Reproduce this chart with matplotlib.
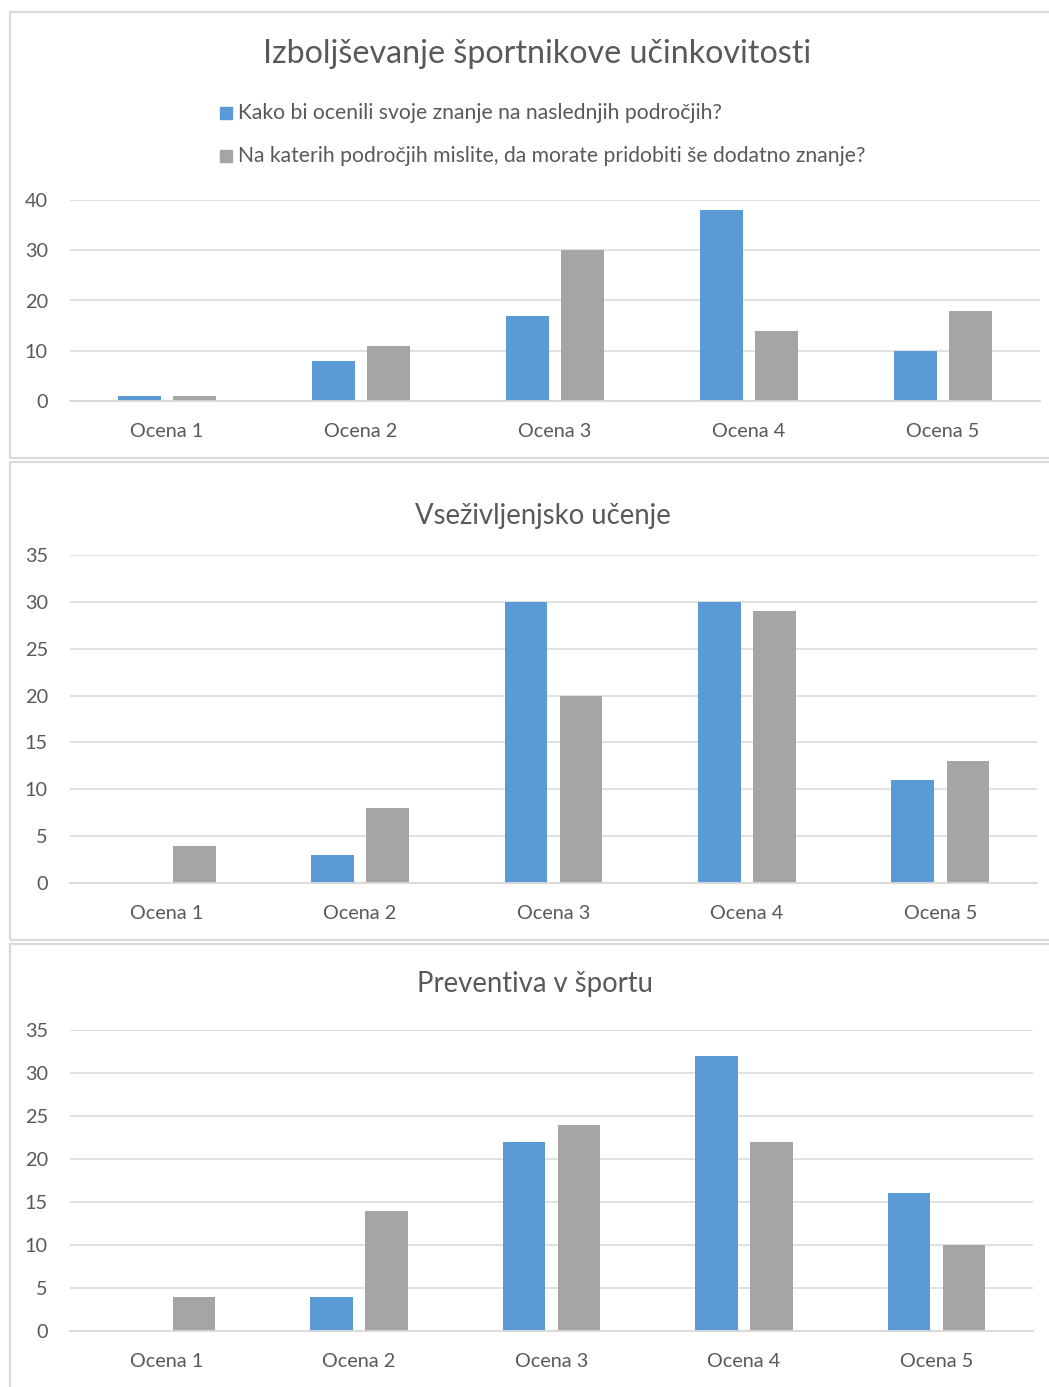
import numpy as np
import matplotlib
matplotlib.use("Agg")
import matplotlib.pyplot as plt
from matplotlib.patches import Rectangle

plt.rcParams["font.family"] = ["Lato", "DejaVu Sans"]

# ---------- data ---------------------------------------------------------
categories = ["Ocena 1", "Ocena 2", "Ocena 3", "Ocena 4", "Ocena 5"]
series_names = [
    "Kako bi ocenili svoje znanje na naslednjih področjih?",
    "Na katerih področjih mislite, da morate pridobiti še dodatno znanje?",
]

titles = [
    "Izboljševanje športnikove učinkovitosti",
    "Vseživljenjsko učenje",
    "Preventiva v športu",
]

ucinkovitost_znanje = [1, 8, 17, 38, 10]
ucinkovitost_dodatno = [1, 11, 30, 14, 18]

ucenje_znanje = [0, 3, 30, 30, 11]
ucenje_dodatno = [4, 8, 20, 29, 13]

preventiva_znanje = [0, 4, 22, 32, 16]
preventiva_dodatno = [4, 14, 24, 22, 10]

y_ticks = [
    [0, 10, 20, 30, 40],
    [0, 5, 10, 15, 20, 25, 30, 35],
    [0, 5, 10, 15, 20, 25, 30, 35],
]

# ---------- styling ------------------------------------------------------
BLUE = "#5b9bd5"
GRAY = "#a5a5a5"
TEXT = "#595959"
GRID = "#d9d9d9"

W, H = 1049, 1387
fig = plt.figure(figsize=(W / 100, H / 100), dpi=100)


def px_axes(left, top, right, bottom):
    # pixel box (origin top-left) -> figure fraction
    return fig.add_axes([left / W, 1 - bottom / H, (right - left) / W, (bottom - top) / H])


def frame(left, top, right, bottom):
    fig.patches.append(Rectangle((left / W, 1 - bottom / H), (right - left) / W,
                                 (bottom - top) / H, transform=fig.transFigure,
                                 fill=False, edgecolor=GRID, lw=1.6))


frame(10, 12, 1060, 458)
frame(10, 462, 1060, 940)
frame(10, 944, 1060, 1400)

panels = [
    dict(box=(70, 200, 1040, 401), a=ucinkovitost_znanje, b=ucinkovitost_dodatno,
         title_y=54, title_x=537, title_size=23.2),
    dict(box=(70, 555, 1037, 883), a=ucenje_znanje, b=ucenje_dodatno,
         title_y=516, title_x=543, title_size=19.8),
    dict(box=(70, 1030, 1033, 1331), a=preventiva_znanje, b=preventiva_dodatno,
         title_y=984, title_x=535, title_size=19.8),
]

x = np.arange(len(categories))
bw = 0.22
off = 0.143

for i, p in enumerate(panels):
    ax = px_axes(*p["box"])
    ax.bar(x - off, p["a"], bw, color=BLUE, zorder=3, label=series_names[0])
    ax.bar(x + off, p["b"], bw, color=GRAY, zorder=3, label=series_names[1])
    ax.set_xlim(-0.5, len(categories) - 0.5)
    ax.set_ylim(y_ticks[i][0], y_ticks[i][-1])
    ax.set_yticks(y_ticks[i])
    ax.set_xticks(x)
    ax.set_xticklabels(categories)
    ax.tick_params(axis="both", length=0, labelsize=14.3, colors=TEXT)
    ax.tick_params(axis="y", pad=16)
    ax.tick_params(axis="x", pad=15.5)
    ax.grid(axis="y", color=GRID, lw=1.1, zorder=0)
    for side in ("top", "right", "left"):
        ax.spines[side].set_visible(False)
    ax.spines["bottom"].set_color(GRID)
    ax.spines["bottom"].set_linewidth(1.3)
    ax.spines["bottom"].set_zorder(4)
    fig.text(p["title_x"] / W, 1 - p["title_y"] / H, titles[i],
             ha="center", va="center", fontsize=p["title_size"], color=TEXT)

    if i == 0:
        handles, labels = ax.get_legend_handles_labels()
        for k, (h, lab) in enumerate(zip(handles, labels)):
            yy = 113 + 43 * k
            fig.patches.append(Rectangle((220 / W, 1 - (yy + 6) / H), 12 / W, 12 / H,
                                         transform=fig.transFigure,
                                         color=h.patches[0].get_facecolor()))
            fig.text(238 / W, 1 - yy / H, lab, ha="left", va="center",
                     fontsize=15.2, color=TEXT)

plt.savefig("out.png", dpi=100)
